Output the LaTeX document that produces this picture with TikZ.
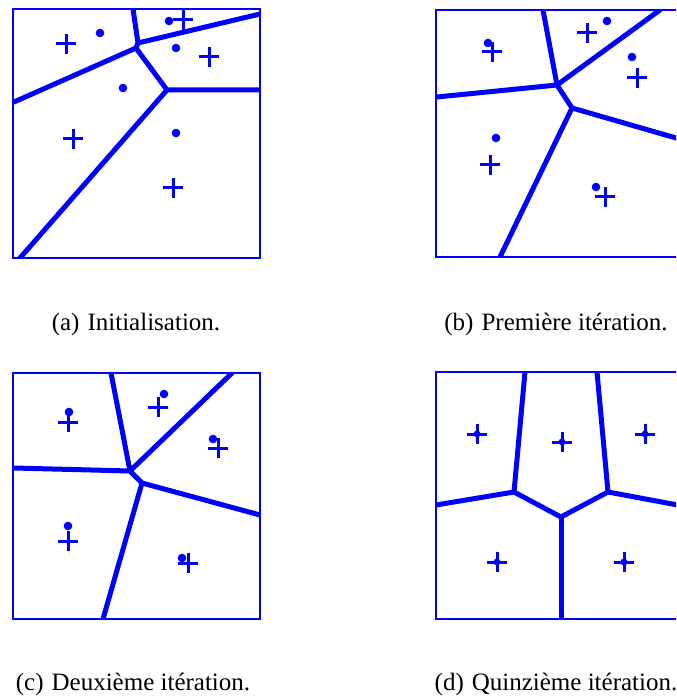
\documentclass[tikz,border=0pt]{standalone}
\usepackage{fontspec}
\setmainfont{Liberation Serif}
\usepackage{tikz}
\definecolor{cVoro}{RGB}{0,0,255}
\tikzset{
	cadre/.style  ={draw=cVoro, line width=2.7pt},
	arete/.style  ={draw=cVoro, line width=5pt, line cap=round, line join=round},
	graine/.style ={fill=cVoro},
	centre/.pic   ={\draw[cVoro, line width=3pt] (-10,0) -- (10,0) (0,-10) -- (0,10);},
	legende/.style={font=\fontsize{25}{30}\selectfont, anchor=base, inner sep=0pt},
}
\newcommand{\sousfig}[2]{(#1)\hspace{8pt}#2}

\begin{document}
\begin{tikzpicture}[x=1pt, y=-1pt]
	\useasboundingbox (0,0) rectangle (676,700);
	\clip (0,0) rectangle (676,700);
	% (a) initialisation
	\begin{scope}
		\clip (13,9) rectangle (260,258);
		\coordinate (a1) at (138,43); \coordinate (a2) at (136,48); \coordinate (a3) at (167,90);
		\draw[arete] (133,9) -- (a1) -- (260,14);
		\draw[arete] (a1) -- (a2) -- (14,102);
		\draw[arete] (a2) -- (a3) -- (260,90);
		\draw[arete] (a3) -- (20,258);
	\end{scope}
	\draw[cadre] (13,9) rectangle (260,258);
	\foreach \p in {(100,33),(169,21),(176,48),(123,88),(176,133)} \fill[graine] \p circle (4.3);
	\foreach \p in {(66,44),(183,20),(209,57),(73,139),(173,188)} \pic at \p {centre};
	% (b) premiere iteration
	\begin{scope}
		\clip (436,10) rectangle (683,257);
		\coordinate (b1) at (557,85); \coordinate (b2) at (572,108);
		\draw[arete] (543,10) -- (b1) -- (660,10);
		\draw[arete] (437,97) -- (b1) -- (b2) -- (683,140);
		\draw[arete] (b2) -- (500,257);
	\end{scope}
	\draw[cadre] (436,10) rectangle (683,257);
	\foreach \p in {(488,43),(607,21),(632,57),(496,138),(596,187)} \fill[graine] \p circle (4.3);
	\foreach \p in {(492,52),(587,33),(637,78),(490,165),(605,197)} \pic at \p {centre};
	% (c) deuxieme iteration
	\begin{scope}
		\clip (13,373) rectangle (260,619);
		\coordinate (c1) at (130,471); \coordinate (c2) at (142,483);
		\draw[arete] (111,373) -- (c1) -- (232,373);
		\draw[arete] (14,468) -- (c1) -- (c2) -- (260,515);
		\draw[arete] (c2) -- (103,619);
	\end{scope}
	\draw[cadre] (13,373) rectangle (260,619);
	\foreach \p in {(69,412),(164,394),(213,439),(68,526),(182,558)} \fill[graine] \p circle (4.3);
	\foreach \p in {(68,422),(158,407),(218,448),(68,541),(188,563)} \pic at \p {centre};
	% (d) quinzieme iteration
	\begin{scope}
		\clip (436,372) rectangle (683,619);
		\coordinate (d1) at (514,492); \coordinate (d2) at (561,517); \coordinate (d3) at (608,492);
		\draw[arete] (525,372) -- (d1) -- (436,505);
		\draw[arete] (d1) -- (d2) -- (d3) -- (597,372);
		\draw[arete] (d3) -- (683,506);
		\draw[arete] (d2) -- (561,619);
	\end{scope}
	\draw[cadre] (436,372) rectangle (683,619);
	\foreach \p in {(477,434),(562,442),(645,434),(497,562),(624,562)} {
		\fill[graine] \p circle (3.5);
		\pic at \p {centre};
	}
	% legendes
	\node[legende] (capA) at (136,330) {\sousfig{a}{Initialisation.}};
	\node[legende] (capB) at (556,330) {\sousfig{b}{Première itération.}};
	\node[legende] (capC) at (133,690) {\sousfig{c}{Deuxième itération.}};
	\node[legende] (capD) at (556,690) {\sousfig{d}{Quinzième itération.}};
\end{tikzpicture}
\end{document}
